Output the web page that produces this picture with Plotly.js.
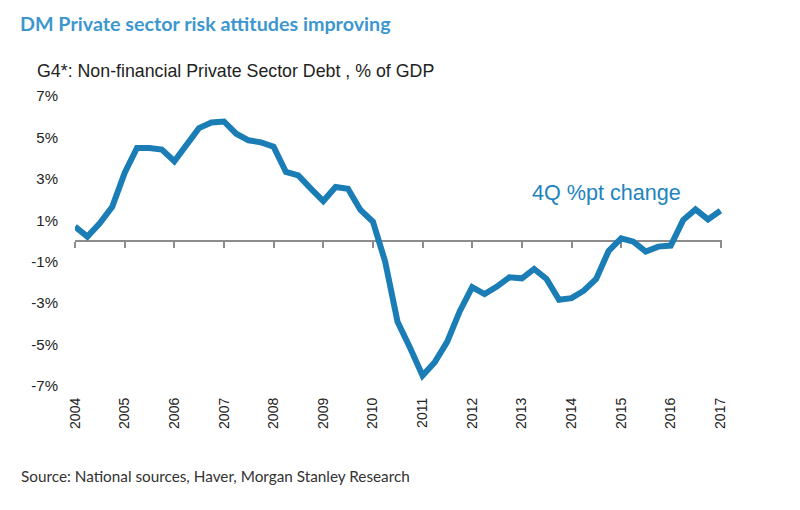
<!DOCTYPE html>
<html>
<head>
<meta charset="utf-8">
<script src="https://cdn.plot.ly/plotly-3.0.1.min.js"></script>
<style>html,body{margin:0;padding:0;background:#fff;}#chart{width:800px;height:510px;}</style>
</head>
<body>
<div id="chart"></div>
<script>
// Quarterly dates 2004Q1 .. 2017Q1
var quarters = [
  '2004-01-01','2004-04-01','2004-07-01','2004-10-01',
  '2005-01-01','2005-04-01','2005-07-01','2005-10-01',
  '2006-01-01','2006-04-01','2006-07-01','2006-10-01',
  '2007-01-01','2007-04-01','2007-07-01','2007-10-01',
  '2008-01-01','2008-04-01','2008-07-01','2008-10-01',
  '2009-01-01','2009-04-01','2009-07-01','2009-10-01',
  '2010-01-01','2010-04-01','2010-07-01','2010-10-01',
  '2011-01-01','2011-04-01','2011-07-01','2011-10-01',
  '2012-01-01','2012-04-01','2012-07-01','2012-10-01',
  '2013-01-01','2013-04-01','2013-07-01','2013-10-01',
  '2014-01-01','2014-04-01','2014-07-01','2014-10-01',
  '2015-01-01','2015-04-01','2015-07-01','2015-10-01',
  '2016-01-01','2016-04-01','2016-07-01','2016-10-01',
  '2017-01-01'
];
// 4Q %pt change in non-financial private sector debt, % of GDP
var change4Q = [
  0.69, 0.21, 0.85, 1.65,
  3.30, 4.49, 4.49, 4.41,
  3.85, 4.60, 5.45, 5.72,
  5.77, 5.18, 4.86, 4.76,
  4.55, 3.33, 3.17, 2.53,
  1.93, 2.61, 2.52, 1.50,
  0.93, -1.00, -3.90, -5.15,
  -6.50, -5.85, -4.87, -3.40,
  -2.23, -2.56, -2.20, -1.75,
  -1.80, -1.35, -1.83, -2.84,
  -2.76, -2.40, -1.83, -0.48,
  0.13, -0.03, -0.51, -0.27,
  -0.22, 1.01, 1.52, 1.04,
  1.46
];
var yTicks = [7, 5, 3, 1, -1, -3, -5, -7];
var yTickText = ['7%', '5%', '3%', '1%', '-1%', '-3%', '-5%', '-7%'];
var titleText = 'DM Private sector risk attitudes improving';
var subtitleText = 'G4*: Non-financial Private Sector Debt , % of GDP';
var seriesLabel = '4Q %pt change';
var sourceText = 'Source: National sources, Haver, Morgan Stanley Research';

var xRange = ['2004-01-01', '2017-01-12'];
var lineColor = '#1a7db6';
var greyAxis = '#8c8c8c';
var sansFont = '"Liberation Sans", Arial, sans-serif';

// invisible copy on the base axis (carries the year labels at the bottom)
var axisCarrier = {
  x: quarters,
  y: change4Q,
  type: 'scatter',
  mode: 'lines',
  line: {color: 'rgba(0,0,0,0)', width: 1},
  xaxis: 'x',
  yaxis: 'y',
  hoverinfo: 'skip'
};

// visible series, drawn on the overlay axis whose line sits at zero
var trace = {
  x: quarters,
  y: change4Q,
  type: 'scatter',
  mode: 'lines',
  line: {color: lineColor, width: 6},
  xaxis: 'x2',
  yaxis: 'y',
  hoverinfo: 'x+y'
};

var layout = {
  width: 800,
  height: 510,
  margin: {l: 75, r: 78, t: 96, b: 124, pad: 0},
  paper_bgcolor: '#ffffff',
  plot_bgcolor: '#ffffff',
  showlegend: false,
  title: {
    text: '<b>' + titleText + '</b>',
    font: {family: 'Lato, sans-serif', size: 19.7, color: '#3d97cf'},
    xref: 'container', x: 0.025, xanchor: 'left',
    yref: 'container', y: 0.952, yanchor: 'middle'
  },
  xaxis: {
    type: 'date',
    range: xRange,
    showgrid: false,
    zeroline: false,
    showline: false,
    ticks: '',
    tick0: '2004-01-01',
    dtick: 'M12',
    tickformat: '%Y',
    tickangle: -90,
    ticklabelstandoff: 8,
    tickfont: {family: sansFont, size: 14, color: '#222222'},
    fixedrange: true
  },
  xaxis2: {
    type: 'date',
    overlaying: 'x',
    anchor: 'free',
    position: 0.5,
    side: 'bottom',
    range: xRange,
    layer: 'below traces',
    showgrid: false,
    zeroline: false,
    showline: true,
    linecolor: greyAxis,
    linewidth: 2,
    ticks: 'outside',
    ticklen: 6,
    tickwidth: 2,
    tickcolor: greyAxis,
    tick0: '2004-01-01',
    dtick: 'M12',
    showticklabels: false,
    fixedrange: true
  },
  yaxis: {
    range: [-7, 7],
    tickvals: yTicks,
    ticktext: yTickText,
    showgrid: false,
    zeroline: false,
    showline: false,
    ticks: '',
    ticklabelstandoff: 16,
    tickfont: {family: sansFont, size: 15, color: '#222222'},
    fixedrange: true
  },
  annotations: [
    {
      text: subtitleText,
      xref: 'paper', yref: 'paper',
      x: -0.062, y: 1.086, xanchor: 'left', yanchor: 'middle',
      showarrow: false,
      font: {family: sansFont, size: 17.8, color: '#222222'}
    },
    {
      text: seriesLabel,
      xref: 'paper', yref: 'paper',
      x: 0.703, y: 0.667, xanchor: 'left', yanchor: 'middle',
      showarrow: false,
      font: {family: sansFont, size: 21.6, color: '#2184bd'}
    },
    {
      text: sourceText,
      xref: 'paper', yref: 'paper',
      x: -0.086, y: -0.31, xanchor: 'left', yanchor: 'middle',
      showarrow: false,
      font: {family: 'Lato, sans-serif', size: 15.3, color: '#333333'}
    }
  ]
};

Plotly.newPlot('chart', [axisCarrier, trace], layout, {displayModeBar: false, staticPlot: true});
</script>
</body>
</html>
